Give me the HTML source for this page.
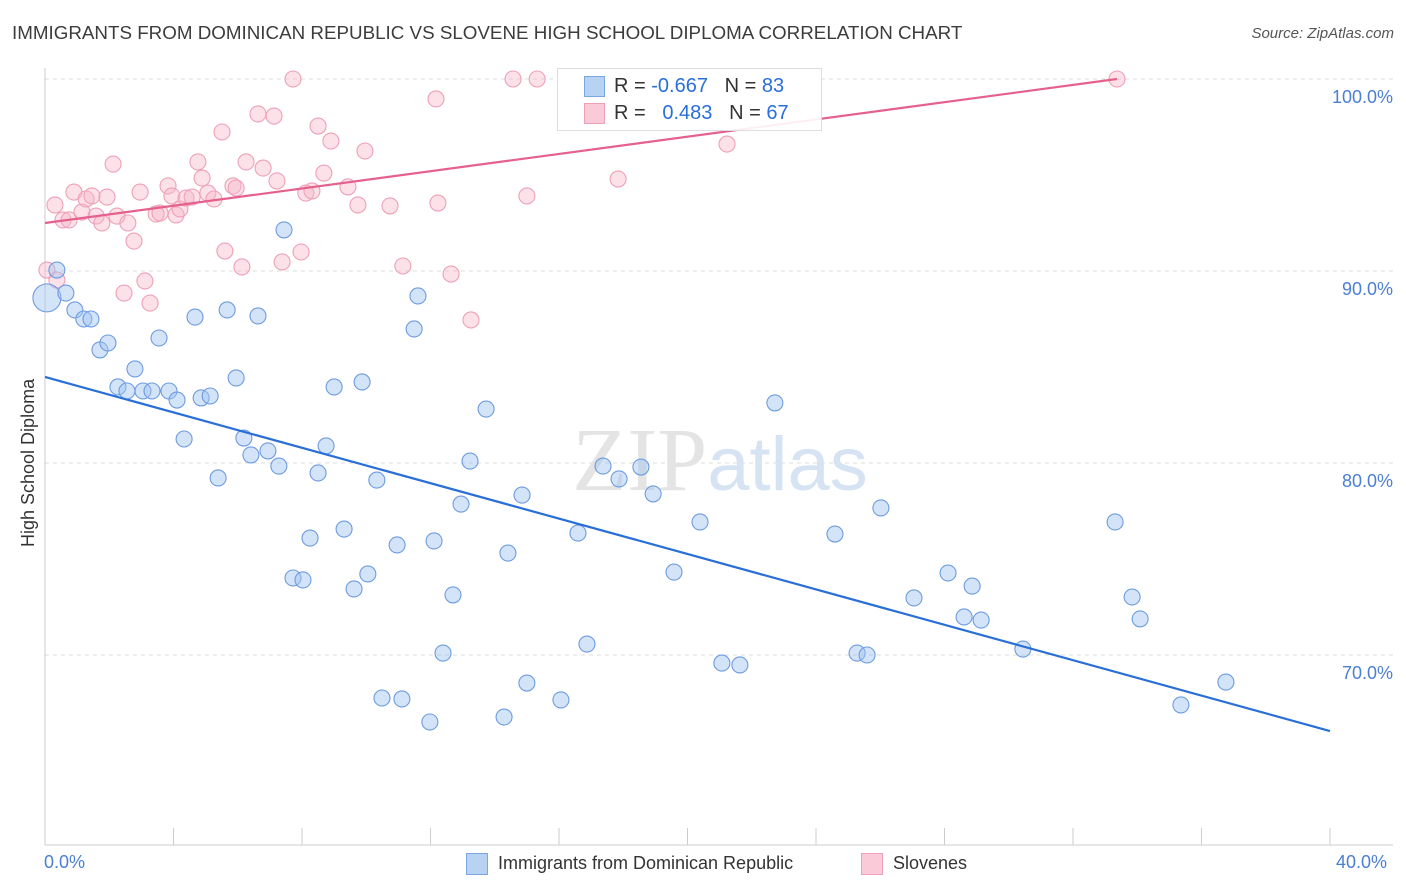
<!DOCTYPE html>
<html><head><meta charset="utf-8">
<style>
body{margin:0;background:#fff;font-family:"Liberation Sans",sans-serif;}
#wrap{position:relative;width:1406px;height:892px;overflow:hidden;}
.t{position:absolute;white-space:nowrap;}
</style></head>
<body>
<div id="wrap">
<div class="t" style="left:12px;top:22px;font-size:18.8px;color:#3c3c3c;">IMMIGRANTS FROM DOMINICAN REPUBLIC VS SLOVENE HIGH SCHOOL DIPLOMA CORRELATION CHART</div>
<div class="t" style="right:12px;top:25px;font-size:15px;color:#555;font-style:italic;">Source: ZipAtlas.com</div>
<svg id="svg" width="1406" height="892" style="position:absolute;left:0;top:0"></svg>
</div>
<script>
const blueX=[0.06,0.37,0.65,0.93,1.21,1.43,1.71,1.96,2.27,2.55,2.80,3.05,3.33,3.55,3.86,4.11,4.33,4.67,4.86,5.14,5.39,5.67,5.95,6.19,6.41,6.63,6.94,7.28,7.44,7.72,8.03,8.25,8.50,8.75,9.0,9.31,9.62,9.87,10.05,10.33,10.49,10.96,11.11,11.49,11.61,11.98,12.11,12.39,12.70,12.95,13.23,13.73,14.29,14.41,14.85,15.0,16.06,16.59,16.87,17.37,17.87,18.55,18.93,19.58,20.39,21.07,21.63,22.72,24.59,25.28,25.59,26.02,27.05,28.11,28.61,28.86,29.14,30.44,33.31,33.84,34.09,35.36,36.76];
const blueY=[88.6,90.05,88.85,87.97,87.5,87.5,85.89,86.25,83.96,83.75,84.9,83.75,83.75,86.51,83.75,83.28,81.25,87.6,83.39,83.49,79.22,87.97,84.43,81.3,80.42,87.66,80.63,79.84,92.14,74.01,73.91,76.09,79.48,80.89,83.96,76.56,73.44,84.22,74.22,79.11,67.76,75.73,67.71,86.98,88.7,66.51,75.94,70.1,73.13,77.86,80.1,82.81,66.77,75.31,78.33,68.54,67.66,76.35,70.57,79.84,79.17,79.79,78.39,74.32,76.93,69.58,69.48,83.13,76.3,70.1,70.0,77.66,72.97,74.27,71.98,73.59,71.82,70.31,76.93,73.02,71.88,67.4,68.59];
const pinkX=[0.06,0.31,0.37,0.56,0.75,0.90,1.15,1.28,1.46,1.59,1.77,1.93,2.12,2.24,2.46,2.58,2.77,2.96,3.11,3.27,3.46,3.58,3.83,3.95,4.08,4.20,4.39,4.58,4.76,4.89,5.07,5.26,5.51,5.60,5.85,5.95,6.13,6.26,6.63,6.79,7.13,7.22,7.38,7.72,7.97,8.12,8.31,8.50,8.68,8.90,9.43,9.74,9.96,10.74,11.14,12.17,12.23,12.64,13.26,14.57,15.0,15.32,17.84,21.23,33.37];
const pinkY=[90.05,93.44,89.53,92.66,92.66,94.11,93.07,93.75,93.91,92.86,92.5,93.85,95.57,92.86,88.85,92.5,91.56,94.11,89.48,88.33,92.97,93.02,94.43,93.91,92.92,93.23,93.8,93.85,95.68,94.84,94.06,93.75,97.24,91.04,94.43,94.32,90.21,95.68,98.18,95.36,98.07,94.69,90.47,100,90.99,94.06,94.17,97.55,95.1,96.77,94.38,93.44,96.25,93.39,90.26,98.96,93.54,89.84,87.45,100,93.91,100,94.79,96.61,100];
const blueLine=[84.48,66.04]; // values at x=0 and x=40
const pinkLine=[92.5,100.0];  // values at x=0 and x=33.37
const pinkLineEnd=33.37;
const yTicks=[100,90,80,70];
const yTickLabels=["100.0%","90.0%","80.0%","70.0%"];

const X=v=>45+v*32.125, Y=v=>79+(100-v)*19.2;
const svg=document.getElementById('svg'), NS='http://www.w3.org/2000/svg';
function mk(t,a){const e=document.createElementNS(NS,t);for(const k in a)e.setAttribute(k,a[k]);svg.appendChild(e);return e;}
yTicks.forEach((v,i)=>{
 const g=mk('line',{x1:45,x2:1393,y1:Y(v),y2:Y(v),stroke:'#dcdcdc','stroke-dasharray':'4,4'});
 
 
 const t=mk('text',{x:1393,y:Y(v)+24,'text-anchor':'end','font-size':18,fill:'#4a7fd4','font-family':'Liberation Sans'});
 t.textContent=yTickLabels[i];
 
 
});
const ax=mk('line',{x1:45,x2:1393,y1:845,y2:845,stroke:'#ccc'});


const ay=mk('line',{x1:45,x2:45,y1:68,y2:845,stroke:'#ccc'});


for(let i=0;i<=10;i++){const tk=mk('line',{x1:X(i*4),x2:X(i*4),y1:828,y2:845,stroke:'#ccc'});
 
 }
const wm=mk('text',{x:720,y:490,'text-anchor':'middle','font-size':90,fill:'#e4e4e4','font-family':'Liberation Serif'});
wm.innerHTML='ZIP<tspan fill="#d6e3f3" font-family="Liberation Sans" font-size="76">atlas</tspan>';


pinkX.forEach((x,i)=>{const c=mk('circle',{cx:X(x),cy:Y(pinkY[i]),r:8,fill:'rgba(248,180,200,0.4)',stroke:'#eea0b8','stroke-width':1.1});
 
 });
blueX.forEach((x,i)=>{const c=mk('circle',{cx:X(x),cy:Y(blueY[i]),r:i===0?14:8,fill:'rgba(160,196,240,0.45)',stroke:'#6d9be0','stroke-width':1.1});
 
 });
const bl=mk('line',{x1:X(0),y1:Y(blueLine[0]),x2:X(40),y2:Y(blueLine[1]),stroke:'#2a6fd8','stroke-width':2.2});


const pl=mk('line',{x1:X(0),y1:Y(pinkLine[0]),x2:X(pinkLineEnd),y2:Y(pinkLine[1]),stroke:'#e5608c','stroke-width':2.2});


</script>
<div class="t" style="left:557px;top:68px;width:263px;height:61px;border:1px solid #ddd;background:rgba(255,255,255,0.9);font-size:20px;">
 <div style="position:absolute;left:26px;top:7px;width:19px;height:19px;background:#b8d2f4;border:1px solid #7aa6e4;"></div>
 <div class="t" style="left:56px;top:6px;color:#333;">R = <span style="color:#2a6fd8">-0.667</span>&nbsp;&nbsp;&nbsp;N = <span style="color:#2a6fd8">83</span></div>
 <div style="position:absolute;left:26px;top:34px;width:19px;height:19px;background:#fbcad8;border:1px solid #eea0b8;"></div>
 <div class="t" style="left:56px;top:33px;color:#333;">R = &nbsp;&nbsp;<span style="color:#2a6fd8">0.483</span>&nbsp;&nbsp;&nbsp;N = <span style="color:#2a6fd8">67</span></div>
</div>
<div class="t" style="left:44px;top:852px;font-size:18px;color:#4a7fd4;">0.0%</div>
<div class="t" style="left:1336px;top:852px;font-size:18px;color:#4a7fd4;">40.0%</div>
<div class="t" style="left:18px;top:455px;font-size:18px;color:#333;transform:rotate(-90deg);transform-origin:left top;width:200px;"><span style="position:relative;left:-92px;">High School Diploma</span></div>
<div class="t" style="left:466px;top:853px;width:20px;height:20px;background:#b8d2f4;border:1px solid #7aa6e4;"></div>
<div class="t" style="left:498px;top:853px;font-size:18px;color:#333;">Immigrants from Dominican Republic</div>
<div class="t" style="left:861px;top:853px;width:20px;height:20px;background:#fbcad8;border:1px solid #eea0b8;"></div>
<div class="t" style="left:893px;top:853px;font-size:18px;color:#333;">Slovenes</div>
</body></html>
